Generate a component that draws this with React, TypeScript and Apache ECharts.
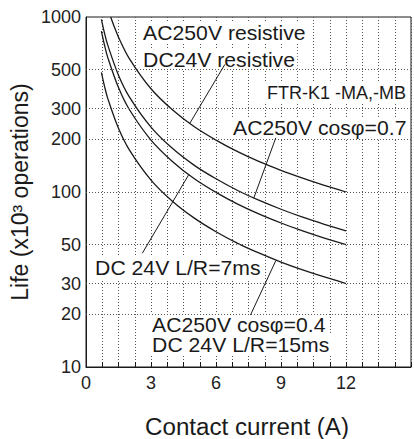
import React, { useEffect, useRef } from "react";
import * as echarts from "echarts";

// Contact current (A) sample points for each curve
const currentA = [1.14, 1.3, 1.5, 2, 3, 4, 5, 6, 7, 8, 9, 10, 11, 12];
const lifeA = [1000, 882, 767, 579, 389, 294, 236, 198, 170, 149, 133, 120, 109, 100];

const currentBCD = [0.71, 0.85, 1, 1.5, 2, 3, 4, 5, 6, 7, 8, 9, 10, 11, 12];
const lifeB = [970, 813, 693, 465, 350, 235, 177, 142, 119, 102, 89.5, 79.7, 71.8, 65.4, 60];
const lifeC = [830, 694, 590, 395, 296, 198, 149, 119, 99.5, 85.3, 74.7, 66.5, 59.9, 54.5, 50];
const lifeD = [482, 404, 344, 231, 174, 117, 88.3, 70.9, 59.3, 50.9, 44.7, 39.8, 35.9, 32.7, 30];

const yTicks = [10, 20, 30, 50, 100, 200, 300, 500, 1000];
const xLabelValues = [0, 3, 6, 9, 12];

// arrows: [from, to] in data coordinates
const arrowFrom = [
  [6.41, 536],
  [8.76, 204],
  [2.6, 44.7],
  [7.59, 19.8],
];
const arrowTo = [
  [4.8, 248],
  [7.74, 92],
  [4.75, 126],
  [8.76, 40.5],
];

const FONT = "'Liberation Sans', Arial, Helvetica, sans-serif";

export default function App() {
  const ref = useRef<HTMLDivElement>(null);

  useEffect(() => {
    const chart = echarts.init(ref.current!, null, { renderer: "svg" });
    const pair = (xs: number[], ys: number[]) => xs.map((x, i) => [x, ys[i]]);
    const curveStyle = { color: "#1a1a1a", width: 1.3 };
    const mk = (name: string, xs: number[], ys: number[], extra: any = {}) => ({
      type: "line",
      name,
      data: pair(xs, ys),
      smooth: 0.35,
      showSymbol: false,
      symbol: "none",
      lineStyle: curveStyle,
      silent: true,
      z: 3,
      ...extra,
    });

    const txt = (text: string, x: number, y: number, size = 20, sx = 1.06) => ({
      type: "text",
      x,
      y,
      scaleX: sx,
      z: 1,
      style: {
        text,
        font: `${size}px ${FONT}`,
        fill: "#1a1a1a",
        align: "left",
        verticalAlign: "middle",
        backgroundColor: "#fff",
        padding: [1, 2],
      },
    });

    chart.setOption({
      animation: false,
      textStyle: { fontFamily: FONT },
      grid: {
        left: 86,
        top: 17,
        width: 330,
        height: 350,
        show: true,
        borderColor: "#1a1a1a",
        borderWidth: 1,
      },
      xAxis: {
        type: "value",
        min: 0,
        max: 15,
        interval: 0.75,
        axisLine: { show: true, lineStyle: { color: "#1a1a1a", width: 1 } },
        axisTick: { show: true, inside: true, length: 5, lineStyle: { color: "#1a1a1a" } },
        axisLabel: {
          fontSize: 18,
          color: "#222",
          margin: 7,
          fontFamily: FONT,
          formatter: (v: number) =>
            xLabelValues.some((t) => Math.abs(t - v) < 1e-6) ? String(Math.round(v)) : "",
        },
        splitLine: { show: true, lineStyle: { type: [1, 2], color: "#555", width: 1 } },
      },
      yAxis: {
        type: "log",
        logBase: 10,
        min: 10,
        max: 1000,
        axisLine: { show: true, lineStyle: { color: "#1a1a1a", width: 1 } },
        axisTick: { show: false },
        axisLabel: { show: false },
        splitLine: { show: false },
      },
      series: [
        {
          type: "line",
          data: [],
          silent: true,
          z: 0,
          markLine: {
            silent: true,
            symbol: "none",
            animation: false,
            data: yTicks.map((v) => ({
              yAxis: v,
              lineStyle: {
                type: [1, 2],
                color: v === 10 || v === 1000 ? "transparent" : "#555",
                width: 1,
              },
              label: {
                show: true,
                position: "start",
                distance: 5,
                formatter: String(v),
                fontSize: 18,
                color: "#222",
                fontFamily: FONT,
              },
            })),
          },
        },
        mk("AC250V resistive / DC24V resistive", currentA, lifeA, {
          markLine: {
            silent: true,
            animation: false,
            symbol: ["none", "arrow"],
            symbolSize: [0, 9],
            label: { show: false },
            lineStyle: { color: "#1a1a1a", width: 1, type: "solid" },
            data: arrowFrom.map((f, i) => [{ coord: f }, { coord: arrowTo[i] }]),
          },
        }),
        mk("AC250V cosφ=0.7", currentBCD, lifeB),
        mk("DC 24V L/R=7ms", currentBCD, lifeC),
        mk("AC250V cosφ=0.4 / DC 24V L/R=15ms", currentBCD, lifeD),
      ],
      graphic: [
        txt("AC250V resistive", 141, 33),
        txt("DC24V resistive", 141, 60),
        txt("FTR-K1 -MA,-MB", 265, 93, 18, 1),
        txt("AC250V cosφ=0.7", 231, 128),
        txt("DC 24V L/R=7ms", 93, 268),
        txt("AC250V cosφ=0.4", 150, 325),
        txt("DC 24V L/R=15ms", 150, 345),
        {
          type: "text",
          x: 20,
          y: 192,
          rotation: Math.PI / 2,
          style: {
            text: "Life (x10³ operations)",
            font: `23px ${FONT}`,
            fill: "#1a1a1a",
            align: "center",
            verticalAlign: "middle",
          },
        },
        {
          type: "text",
          x: 247,
          y: 427,
          scaleX: 1.05,
          style: {
            text: "Contact current (A)",
            font: `23px ${FONT}`,
            fill: "#1a1a1a",
            align: "center",
            verticalAlign: "middle",
          },
        },
      ],
    });

    return () => chart.dispose();
  }, []);

  return (
    <div
      ref={ref}
      style={{ position: "fixed", left: 0, top: 0, width: 414, height: 439, background: "#fff" }}
    />
  );
}
